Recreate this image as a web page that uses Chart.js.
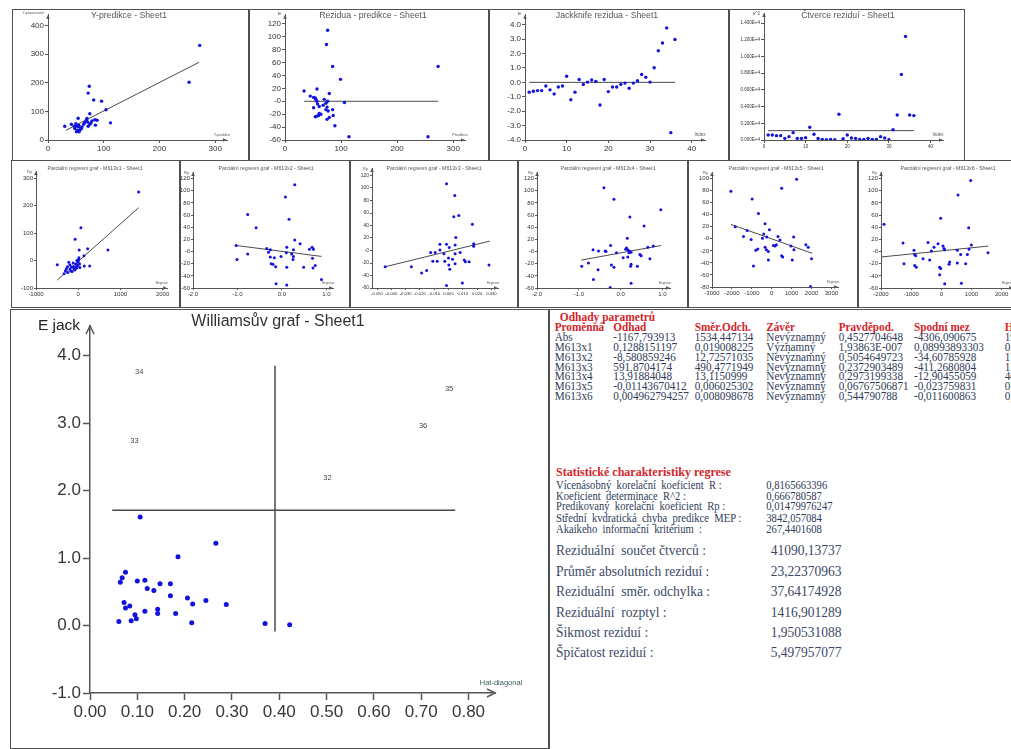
<!DOCTYPE html>
<html lang="cs">
<head>
<meta charset="utf-8">
<title>Regrese - Sheet1</title>
<script src="https://cdn.jsdelivr.net/npm/chart.js@4.4.1/dist/chart.umd.min.js"></script>
<style>
  html, body { margin: 0; padding: 0; background: #fff; }
  body { position: relative; width: 1011px; height: 749px; overflow: hidden; font-family: Arial, "Liberation Sans", sans-serif; }
  .panel { position: absolute; box-shadow: inset 0 0 0 1px #505050; overflow: hidden; }
  .panel canvas { position: absolute; left: 0; top: 0; }
  #report { position: absolute; left: 549px; top: 309px; width: 470px; height: 440px; border-left: 1px solid #505050; border-top: 1px solid #505050; overflow: hidden; font-family: "Liberation Serif", "Times New Roman", serif; color: #2f3b58; }
  #report span { position: absolute; white-space: pre; transform: scaleY(1.1); transform-origin: 0 50%; }
  #report .red { color: #d3252b; font-weight: bold; }
</style>
</head>
<body>
<div id="charts"></div>
<div id="report"></div>
<script>
// ---- data ----

// Y-predikce - Sheet1
const predikce   = [272,253,74,72,82,96,104,75,54,112,30,84,69,71,77,85,72,42,50,52,56,48,53,58,51,56,61,47,64,75,79,88,60,66,55,70];
const pozorovane = [331,202,188,164,140,136,106,92,76,60,48,71,71,63,60,52,48,55,57,48,46,40,34,37,29,29,46,48,55,55,67,69,40,62,52,75];
const predLineX = [32, 271];
const predLineY = [34, 272];

// Rezidua - predikce - Sheet1
const rezPredikce = [76,74,85,99,273,34,57,79,45,51,54,55,70,57,76,106,58,73,61,51,75,73,85,77,61,57,54,60,86,79,75,89,114,255,64,68];
const rezidua     = [110,88,54,34,54,16,19,12,8,6,5,3,3,0,0,-2,-4,-3,-8,-10,-9,-13,-13,-15,-19,-23,-24,-22,-22,-25,-28,-38,-55,-55,-20,-6];
const rezLineX = [34, 273];
const rezLineY = [0, 0];

// Jackknife rezidua / Ctverce rezidui (by index)
const indexy = [1,2,3,4,5,6,7,8,9,10,11,12,13,14,15,16,17,18,19,20,21,22,23,24,25,26,27,28,29,30,31,32,33,34,35,36];
const jackknife = [-0.68,-0.62,-0.57,-0.57,-0.25,-0.52,-0.80,-0.32,-0.25,0.43,-1.21,-0.68,0.20,-0.14,0.02,0.16,0.07,-1.57,0.20,-0.64,-0.32,-0.32,-0.14,-0.05,-0.41,-0.05,0.11,0.55,0.36,0.02,1.02,2.19,2.73,3.78,-3.49,2.98];
const ctverce = [600,600,520,520,200,400,880,200,200,280,1520,680,200,80,40,80,40,3080,160,600,240,200,80,80,200,80,80,400,240,40,1240,3000,7840,12400,3000,2920];
const jackLineX = [1, 36];
const jackLineY = [0, 0];
const ctvLineX = [1, 36];
const ctvLineY = [1120, 1120];

// Parcialni regresni grafy M613x1 .. M613x6
const parcX1 = [1432,64,-72,704,224,24,136,16,272,144,-496,-224,-32,-120,-160,-256,-304,-248,-336,-192,-128,-64,-16,32,-80,-144,0,-40,-200,-100,40,-280,8,-20,-180,-60];
const parcY1 = [250,120,78,39,43,39,18,10,-20,-20,-15,-6,0,-9,-22,-22,-37,-43,-48,-30,-23,-22,-20,-12,-34,-40,-5,-28,-15,-30,-25,-30,3,-15,-38,-12];
const lineX1 = [-496, 1432], lineY1 = [-71, 193];

const parcX2 = [0.29,0.08,0.16,-0.77,-0.58,-1.03,-1.01,-0.77,-0.34,-0.26,0.29,0.41,0.11,0.26,0.10,0.62,0.68,0.71,-0.26,-0.17,-0.02,0.26,0.25,0.69,-0.20,-0.14,0.11,0.49,0.70,0.75,-0.13,0.11,0.89,-0.30,-0.24,0.22];
const parcY2 = [110,90,53,61,39,10,-13,-4,5,3,19,13,7,3,-2,4,7,4,-9,-10,-8,-8,-13,-11,-21,-25,-26,-26,-27,-23,-53,-55,-46,-1,-20,-4];
const lineX2 = [-1.03, 0.89], lineY2 = [10, -8];

const parcX3 = [-0.0014,0.0044,0.0037,0.0072,0.0167,0.0051,0.0176,0.0176,-0.006,-0.0014,0.0046,0.0005,-0.006,-0.0125,-0.0093,-0.0032,0.0046,0.0081,0,0.0028,-0.011,-0.0079,-0.0026,0.011,0.0118,0.0144,0.0002,0.0046,0.0009,0.0283,-0.0443,-0.026,-0.0188,-0.0153,0.0097,-0.0014];
const parcY3 = [107,88,54,56,42,21,11,7,10,10,9,5,1,-3,-3,-5,-5,-3,-12,-14,-17,-17,-17,-15,-18,-18,-23,-21,-30,-23,-26,-26,-36,-32,-52,-56];
const lineX3 = [-0.0443, 0.0288], lineY3 = [-26, 15];

const parcX4 = [-0.40,-0.16,0.22,0.96,0.56,0.16,-0.24,-0.66,-0.53,-0.37,-0.10,0.14,0.17,0.21,0.25,0.65,0.78,0.06,0.17,0.46,0.49,0.70,-0.93,-0.77,-0.54,-0.22,-0.16,0.25,0.24,0.40,-0.65,0.25,-0.25,0.12,-0.35,0.20];
const parcY4 = [105,86,57,69,42,22,10,3,1,1,-2,6,3,1,-1,7,9,-10,-9,-5,-7,-12,-24,-19,-30,-22,-26,-21,-24,-24,-46,-52,-59,4,0,-2];
const lineX4 = [-0.94, 0.97], lineY4 = [-14, 10];

const parcX5 = [-2050,-983,-667,500,1250,-1833,-1233,-1417,-1033,-333,-400,-467,-250,-117,317,417,167,233,83,1100,967,1117,1717,1833,-333,-267,-700,-800,-167,-167,500,550,1033,2000,-917,1950];
const parcY5 = [79,66,42,84,99,20,14,4,-1,25,8,1,3,15,4,-2,-12,-10,-11,3,-12,-18,-10,-14,-14,-18,-17,-19,-21,-35,-28,-30,-35,-33,-45,-79];
const lineX5 = [-2050, 2033], lineY5 = [24, -24];

const parcX6 = [-1900,972,552,-22,906,-1271,-442,-110,-331,-243,55,88,110,530,640,994,917,862,1547,-906,-884,-851,-608,-387,-1238,-884,-829,254,276,807,530,-55,-22,-55,110,663];
const parcY6 = [45,117,93,55,39,14,15,13,1,7,9,5,3,2,-5,11,4,-5,-2,2,-5,-7,-12,-14,-20,-23,-26,-21,-17,-20,-19,-26,-28,-38,-53,-52];
const lineX6 = [-2000, 1547], lineY6 = [-9, 9];

// Williamsuv graf - Sheet1
const hatDiag = [0.266,0.186,0.075,0.068,0.064,0.100,0.116,0.148,0.170,0.121,0.135,0.170,0.206,0.245,0.072,0.217,0.288,0.084,0.075,0.143,0.116,0.143,0.181,0.095,0.098,0.087,0.061,0.215,0.370,0.422,0.106];
const eJack   = [1.22,1.02,0.79,0.71,0.64,0.66,0.67,0.62,0.62,0.55,0.52,0.44,0.41,0.37,0.34,0.32,0.31,0.29,0.26,0.24,0.21,0.18,0.18,0.16,0.10,0.07,0.06,0.04,0.03,0.01,1.61];
const outlierIds   = ['32','33','34','35','36'];
const outlierHat   = [0.502,0.094,0.104,0.759,0.704];
const outlierEJack = [2.19,2.73,3.76,3.51,2.96];
const limitEX = [0.047, 0.772], limitEY = [1.71, 1.71];
const limitHX = [0.391, 0.391], limitHY = [-0.09, 3.85];

// tick labels
const ticksPredX = [0,100,200,300];
const ticksPredY = [0,100,200,300,400];
const ticksRezY  = [-60,-40,-20,0,20,40,60,80,100,120];
const ticksIdxX  = [0,10,20,30,40];
const ticksJackY = [-4,-3,-2,-1,0,1,2,3,4];
const ticksCtvY  = [0,2000,4000,6000,8000,10000,12000,14000];
const ticksP1X = [-1000,0,1000,2000];
const ticksP1Y = [-100,0,100,200,300];
const ticksP2X = [-2,-1,0,1];
const ticksP3X = [-0.05,-0.04,-0.03,-0.02,-0.01,0,0.01,0.02,0.03];
const ticksP5X = [-3000,-2000,-1000,0,1000,2000,3000];
const ticksP5Y = [-80,-60,-40,-20,0,20,40,60,80,100];
const ticksP6X = [-2000,-1000,0,1000,2000];
const ticksWX = [0,0.1,0.2,0.3,0.4,0.5,0.6,0.7,0.8];
const ticksWY = [-1,0,1,2,3,4];

// report texts
const paramHead = ['Proměnná','Odhad','Směr.Odch.','Závěr','Pravděpod.','Spodní mez','Horní mez'];
const paramRows = [
  ['Abs','-1167,793913','1534,447134','Nevýznamný','0,4527704648','-4306,090675','1970,502849'],
  ['M613x1','0,1288151197','0,019008225','Významný','1,93863E-007','0,08993893303','0,1676912064'],
  ['M613x2','-8,580859246','12,72571035','Nevýznamný','0,5054649723','-34,60785928','17,44614079'],
  ['M613x3','591,8704174','490,4771949','Nevýznamný','0,2372903489','-411,2680804','1595,008915'],
  ['M613x4','13,91884048','13,1150999','Nevýznamný','0,2973199338','-12,90455059','40,74223155'],
  ['M613x5','-0,01143670412','0,006025302','Nevýznamný','0,06767506871','-0,023759831','0,000886423'],
  ['M613x6','0,004962794257','0,008098678','Nevýznamný','0,544790788','-0,011600863','0,021526452']
];
const statLabels = ['Vícenásobný  korelační  koeficient  R :','Koeficient  determinace  R^2 :','Predikovaný  korelační  koeficient  Rp :','Střední  kvdratická  chyba  predikce  MEP :','Akaikeho  informační  kritérium  :'];
const statValues = ['0,8165663396','0,666780587','0,01479976247','3842,057084','267,4401608'];
const residLabels = ['Reziduální  součet čtverců :','Průměr absolutních reziduí :','Reziduální  směr. odchylka :','Reziduální  rozptyl :','Šikmost reziduí :','Špičatost reziduí :'];
const residValues = ['41090,13737','23,22370963','37,64174928','1416,901289','1,950531088','5,497957077'];

// ---- helpers ----
const fmtInt = v => String(v);
const fmtMinusZero = v => (v === 0 ? '-0' : String(v));
const fmt1 = v => v.toFixed(1);
const fmt2 = v => v.toFixed(2);
const fmt3 = v => v.toFixed(3);
const fmtSci = v => (v / 10000).toFixed(3) + 'E+4';

const pts = (xs, ys) => xs.map((x, i) => ({ x, y: ys[i] }));
const dots = (xs, ys, r) => ({ data: pts(xs, ys), pointRadius: r, pointBackgroundColor: '#1212dc', pointBorderWidth: 0, order: 1 });
const seg = (xs, ys, w) => ({ data: pts(xs, ys), showLine: true, pointRadius: 0, borderColor: '#4a4a4a', borderWidth: w, order: 2 });

const styleTop = { font: 8, tickLen: 3, lw: 1, pad: 1, color: '#555', labelColor: '#333' };
const styleRow = { font: 6, tickLen: 2, lw: 1, pad: 1, color: '#555', labelColor: '#333' };
const styleW   = { font: 17, tickLen: 7, lw: 1.5, pad: 2, color: '#555', labelColor: '#383838' };

function axis(s, st, isY, size) {
  return {
    type: 'linear',
    position: isY ? 'left' : 'bottom',
    min: s.min,
    max: s.max,
    afterBuildTicks: sc => { sc.ticks = s.ticks.map(v => ({ value: v })); },
    afterFit: sc => { if (isY) sc.width = size; else sc.height = size; },
    grid: { display: true, drawOnChartArea: false, drawTicks: true, tickLength: st.tickLen, tickWidth: st.lw, color: st.color, tickColor: st.color },
    border: { display: true, color: st.color, width: st.lw },
    ticks: {
      autoSkip: false, maxRotation: 0, padding: st.pad, color: st.labelColor,
      font: { family: 'Arial', size: s.font || st.font },
      callback: v => s.fmt(v)
    }
  };
}

// arrows, titles, axis names and point labels
const decor = {
  id: 'decor',
  afterDatasetsDraw(chart, args, o) {
    const { ctx, chartArea: a } = chart;
    ctx.save();
    ctx.strokeStyle = o.color;
    ctx.fillStyle = o.color;
    ctx.lineWidth = o.lw;
    const w = o.arrowW, h = o.arrowH;
    [[a.left - w, a.top + h, a.left, a.top, a.left + w, a.top + h],
     [a.right - h, a.bottom - w, a.right, a.bottom, a.right - h, a.bottom + w]].forEach(p => {
      ctx.beginPath();
      ctx.moveTo(p[0], p[1]); ctx.lineTo(p[2], p[3]); ctx.lineTo(p[4], p[5]);
      if (o.filled) { ctx.closePath(); ctx.fill(); } else ctx.stroke();
    });
    ctx.textBaseline = 'middle';
    o.texts.forEach(t => {
      ctx.font = t.size + 'px Arial';
      ctx.fillStyle = t.color || '#444';
      ctx.textAlign = t.align || 'center';
      ctx.fillText(t.text, t.x, t.y);
    });
    chart.data.datasets.forEach((ds, i) => {
      if (!ds.pointLabels) return;
      ctx.font = ds.labelFont;
      ctx.fillStyle = ds.labelColor;
      ctx.textAlign = 'center';
      chart.getDatasetMeta(i).data.forEach((el, j) => ctx.fillText(ds.pointLabels[j], el.x, el.y));
    });
    ctx.restore();
  }
};

function drawPanel(p) {
  const [L, T, W, H] = p.box;
  const [l, t, r, b] = p.area;
  const box = document.createElement('div');
  box.className = 'panel';
  Object.assign(box.style, { left: L + 'px', top: T + 'px', width: W + 'px', height: H + 'px' });
  const cv = document.createElement('canvas');
  cv.width = W; cv.height = H;
  cv.style.width = W + 'px'; cv.style.height = H + 'px';
  box.appendChild(cv);
  document.getElementById('charts').appendChild(box);

  new Chart(cv, {
    type: 'scatter',
    data: { datasets: p.datasets },
    options: {
      responsive: false,
      animation: false,
      devicePixelRatio: 1,
      layout: { padding: { left: 0, top: t, right: W - r, bottom: 0 } },
      plugins: { legend: { display: false }, tooltip: { enabled: false }, decor: p.decor },
      scales: { x: axis(p.x, p.style, false, H - b), y: axis(p.y, p.style, true, l) }
    },
    plugins: [decor]
  });
}

function smallDecor(area, title, tx, ty, tsize, yName, yNameSize, xName, xNameSize) {
  const [l, t, r, b] = area;
  return {
    color: '#555', lw: 1, arrowW: 1.8, arrowH: 4, filled: true,
    texts: [
      { text: title, x: tx, y: ty, size: tsize, color: '#555' },
      { text: yName, x: l - 4, y: t + 0.5, size: yNameSize, align: 'right', color: '#555' },
      { text: xName, x: r - 5, y: b - 5, size: xNameSize, color: '#555' }
    ]
  };
}

// ---- layout: box [left, top, width, height], chart area inside [left, top, right, bottom] ----
const panels = [
  {
    box: [12, 9, 237, 152], area: [36, 4, 215, 131], style: styleTop,
    x: { min: 0, max: 321, ticks: ticksPredX, fmt: fmtInt },
    y: { min: 0, max: 438, ticks: ticksPredY, fmt: fmtInt },
    datasets: [seg(predLineX, predLineY, 1), dots(predikce, pozorovane, 1.7)],
    decor: smallDecor([36, 4, 215, 131], 'Y-predikce - Sheet1', 117, 6.5, 8.7, 'Y-pozorované', 3.5, 'Y-predikce', 3.5)
  },
  {
    box: [249, 9, 240, 152], area: [36, 4, 216, 131], style: styleTop,
    x: { min: 0, max: 321, ticks: ticksPredX, fmt: fmtInt },
    y: { min: -60, max: 134, ticks: ticksRezY, fmt: fmtMinusZero },
    datasets: [seg(rezLineX, rezLineY, 1), dots(rezPredikce, rezidua, 1.7)],
    decor: smallDecor([36, 4, 216, 131], 'Rezidua - predikce - Sheet1', 124, 6.5, 8.7, 'e', 6, 'Predikce', 4)
  },
  {
    box: [489, 9, 240, 152], area: [36, 4, 216, 131], style: styleTop,
    x: { min: 0, max: 43.2, ticks: ticksIdxX, fmt: fmtInt },
    y: { min: -4, max: 4.69, ticks: ticksJackY, fmt: fmt1 },
    datasets: [seg(jackLineX, jackLineY, 1), dots(indexy, jackknife, 1.7)],
    decor: smallDecor([36, 4, 216, 131], 'Jackknife rezidua - Sheet1', 118, 6.5, 8.7, 'e', 6, 'Index', 4.5)
  },
  {
    box: [729, 9, 236, 152], area: [35, 4, 214, 131], style: styleTop,
    x: { min: 0, max: 43, ticks: ticksIdxX, fmt: fmtInt, font: 4.5 },
    y: { min: 0, max: 15200, ticks: ticksCtvY, fmt: fmtSci, font: 4.5 },
    datasets: [seg(ctvLineX, ctvLineY, 1), dots(indexy, ctverce, 1.7)],
    decor: smallDecor([35, 4, 214, 131], 'Čtverce reziduí - Sheet1', 119, 6.5, 8.7, 'e^2', 4.5, 'Index', 4.5)
  },
  {
    box: [11, 160, 169, 148], area: [25, 11, 156, 128], style: styleRow,
    x: { min: -1000, max: 2104, ticks: ticksP1X, fmt: fmtInt },
    y: { min: -100, max: 327, ticks: ticksP1Y, fmt: fmtInt },
    datasets: [seg(lineX1, lineY1, 1), dots(parcX1, parcY1, 1.5)],
    decor: smallDecor([25, 11, 156, 128], 'Parciální regresní graf - M613x1 - Sheet1', 84, 8.3, 5.2, 'Ry', 4, 'Regresor', 3)
  },
  {
    box: [180, 160, 170, 148], area: [13, 12, 153, 128], style: styleRow,
    x: { min: -2, max: 1.15, ticks: ticksP2X, fmt: fmt1 },
    y: { min: -60, max: 131, ticks: ticksRezY, fmt: fmtMinusZero },
    datasets: [seg(lineX2, lineY2, 1), dots(parcX2, parcY2, 1.5)],
    decor: smallDecor([13, 12, 153, 128], 'Parciální regresní graf - M613x2 - Sheet1', 86, 8.3, 5.2, 'Ry', 4, 'Regresor', 3)
  },
  {
    box: [350, 160, 168, 148], area: [22, 8, 148, 128], style: styleRow,
    x: { min: -0.0535, max: 0.0346, ticks: ticksP3X, fmt: fmt3, font: 4.2 },
    y: { min: -60, max: 132, ticks: ticksRezY, fmt: fmtMinusZero, font: 5 },
    datasets: [seg(lineX3, lineY3, 1), dots(parcX3, parcY3, 1.5)],
    decor: smallDecor([22, 8, 148, 128], 'Parciální regresní graf - M613x3 - Sheet1', 84, 8.3, 5.2, 'Ry', 4, 'Regresor', 3)
  },
  {
    box: [518, 160, 170, 148], area: [19, 12, 152, 128], style: styleRow,
    x: { min: -2, max: 1.18, ticks: ticksP2X, fmt: fmt1 },
    y: { min: -60, max: 131, ticks: ticksRezY, fmt: fmtMinusZero },
    datasets: [seg(lineX4, lineY4, 1), dots(parcX4, parcY4, 1.5)],
    decor: smallDecor([19, 12, 152, 128], 'Parciální regresní graf - M613x4 - Sheet1', 90, 8.3, 5.2, 'Ry', 4, 'Regresor', 3)
  },
  {
    box: [688, 160, 170, 148], area: [24, 12, 150, 127], style: styleRow,
    x: { min: -3000, max: 3330, ticks: ticksP5X, fmt: fmtInt },
    y: { min: -80, max: 111, ticks: ticksP5Y, fmt: fmtMinusZero },
    datasets: [seg(lineX5, lineY5, 1), dots(parcX5, parcY5, 1.5)],
    decor: smallDecor([24, 12, 150, 127], 'Parciální regresní graf - M613x5 - Sheet1', 88, 8.3, 5.2, 'Ry', 4, 'Regresor', 3)
  },
  {
    box: [858, 160, 170, 148], area: [23, 12, 155, 128], style: styleRow,
    x: { min: -2000, max: 2375, ticks: ticksP6X, fmt: fmtInt },
    y: { min: -60, max: 131, ticks: ticksRezY, fmt: fmtMinusZero },
    datasets: [seg(lineX6, lineY6, 1), dots(parcX6, parcY6, 1.5)],
    decor: smallDecor([23, 12, 155, 128], 'Parciální regresní graf - M613x6 - Sheet1', 90, 8.3, 5.2, 'Ry', 4, 'Regresor', 3)
  },
  {
    box: [10, 309, 539, 440], area: [80, 17, 485, 384], style: styleW,
    x: { min: 0, max: 0.856, ticks: ticksWX, fmt: fmt2 },
    y: { min: -1, max: 4.44, ticks: ticksWY, fmt: fmt1 },
    datasets: [
      seg(limitEX, limitEY, 1.5),
      seg(limitHX, limitHY, 1.5),
      dots(hatDiag, eJack, 2.5),
      { data: pts(outlierHat, outlierEJack), pointRadius: 0, pointLabels: outlierIds, labelFont: '7.5px Arial', labelColor: '#444', order: 0 }
    ],
    decor: {
      color: '#555', lw: 1.5, arrowW: 4, arrowH: 8, filled: false,
      texts: [
        { text: 'Williamsův graf - Sheet1', x: 268, y: 13, size: 16, color: '#333' },
        { text: 'E jack', x: 49, y: 17, size: 15.5, color: '#222' },
        { text: 'Hat-diagonal', x: 491, y: 374, size: 7.5, color: '#3d5c5c' }
      ]
    }
  }
];

panels.forEach(drawPanel);

// ---- text report ----
const rep = document.getElementById('report');
function put(text, x, y, size, cls, color) {
  const s = document.createElement('span');
  s.textContent = text;
  s.style.left = x + 'px';
  s.style.top = (y - size * 0.6) + 'px';
  s.style.fontSize = size + 'px';
  s.style.lineHeight = (size * 1.2) + 'px';
  if (cls) s.className = cls;
  if (color) s.style.color = color;
  rep.appendChild(s);
}

const colX = [4.7, 63.3, 144.7, 216.3, 288.7, 364, 454.7];
const rowY = [28, 37.7, 47.5, 57.3, 67.2, 77, 86.8];
put('Odhady parametrů', 9.7, 8, 11.5, 'red');
paramHead.forEach((h, i) => put(h, colX[i], 18, 11.2, 'red'));
paramRows.forEach((row, j) => row.forEach((c, i) => put(c, colX[i], rowY[j], 11.2)));

put('Statistické charakteristiky regrese', 6, 161.7, 12, 'red');
const statY = [176.7, 187.7, 197.7, 209, 220];
statLabels.forEach((t, i) => { put(t, 6, statY[i], 10.6); put(statValues[i], 216.3, statY[i], 10.6); });

const residY = [240.7, 262.3, 282.3, 303.3, 323.3, 343.3];
residLabels.forEach((t, i) => { put(t, 6, residY[i], 13.5, null, '#3c4866'); put(residValues[i], 220.7, residY[i], 13.5, null, '#3c4866'); });
</script>
</body>
</html>
